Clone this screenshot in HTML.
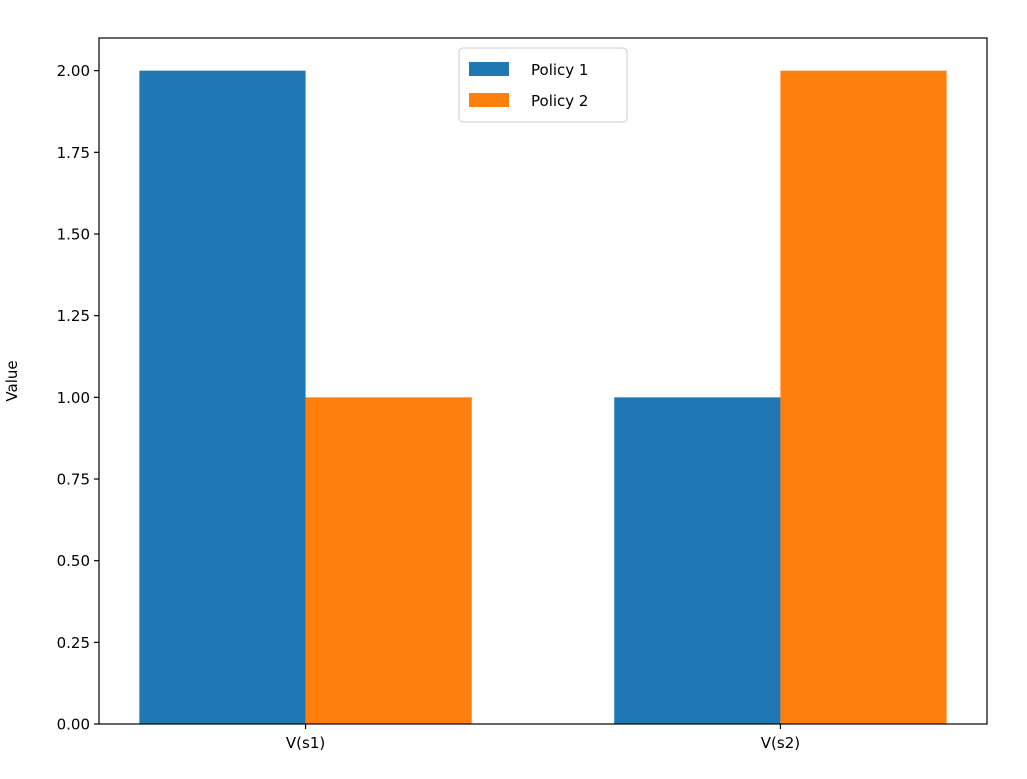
<!DOCTYPE html>
<html><head><meta charset="utf-8"><style>
body{margin:0;background:#fff}
svg text{font-family:"DejaVu Sans","Liberation Sans",sans-serif;font-size:15px;fill:#000}
</style></head><body>
<svg id="chart" width="1027" height="774"></svg>
<script>
const categories = ["V(s1)", "V(s2)"];
const seriesNames = ["Policy 1", "Policy 2"];
const policy1 = [2, 1];
const policy2 = [1, 2];
const yTicks = [0, 0.25, 0.5, 0.75, 1.0, 1.25, 1.5, 1.75, 2.0];
const yTickLabels = ["0.00","0.25","0.50","0.75","1.00","1.25","1.50","1.75","2.00"];

const NS = "http://www.w3.org/2000/svg";
const svg = document.getElementById("chart");
const L = 99, R = 987, T = 38, B = 724;
const xmin = -0.435, xmax = 1.435, ymin = 0, ymax = 2.1;
const xs = v => L + (v - xmin) / (xmax - xmin) * (R - L);
const ys = v => B - (v - ymin) / (ymax - ymin) * (B - T);
const colors = ["#1f77b4", "#ff7f0e"];
const barW = 0.35;

function mk(tag, attrs) {
  const e = document.createElementNS(NS, tag);
  for (const k in attrs) e.setAttribute(k, attrs[k]);
  svg.appendChild(e);
  return e;
}

[policy1, policy2].forEach((vals, s) => {
  vals.forEach((v, i) => {
    const xc = i + (s === 0 ? -barW / 2 : barW / 2);
    const r = mk("rect", {x: xs(xc - barW / 2), y: ys(v), width: xs(xc + barW / 2) - xs(xc - barW / 2), height: ys(0) - ys(v), fill: colors[s]});
    
    
  });
});

const frame = mk("rect", {x: L, y: T, width: R - L, height: B - T, fill: "none", stroke: "#000", "stroke-width": 1.2});



yTicks.forEach((t, i) => {
  const y = ys(t);
  const tk = mk("line", {x1: L - 5, x2: L, y1: y, y2: y, stroke: "#000", "stroke-width": 1.2});
  
  
  const tx = mk("text", {x: L - 9, y: y + 5.5, "text-anchor": "end"});
  tx.textContent = yTickLabels[i];
  
  
});

categories.forEach((c, i) => {
  const x = xs(i);
  const tk = mk("line", {x1: x, x2: x, y1: B, y2: B + 5, stroke: "#000", "stroke-width": 1.2});
  
  
  const tx = mk("text", {x: x, y: B + 24, "text-anchor": "middle"});
  tx.textContent = c;
  
  
});

const yt = mk("text", {x: 17, y: (T + B) / 2, "text-anchor": "middle", transform: "rotate(-90 17 " + (T + B) / 2 + ")"});
yt.textContent = "Value";



const lg = mk("rect", {x: 459, y: 48, width: 168, height: 74, rx: 4, fill: "#fff", "fill-opacity": 0.8, stroke: "#ccc", "stroke-width": 1});


seriesNames.forEach((n, s) => {
  const y = 62 + s * 31;
  const sw = mk("rect", {x: 469, y: y, width: 40, height: 14, fill: colors[s]});
  
  
  const tx = mk("text", {x: 531, y: y + 13});
  tx.textContent = n;
  
  
});
</script>
</body></html>
